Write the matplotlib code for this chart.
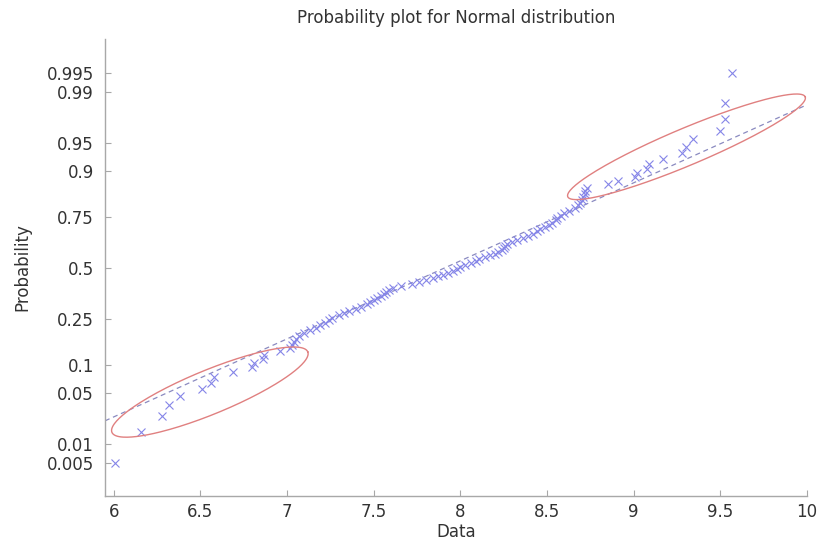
"""Normal probability plot with two hand-circled tail regions."""
from statistics import NormalDist

import matplotlib
matplotlib.use("Agg")
import matplotlib.pyplot as plt
import numpy as np

plt.rcParams["font.family"] = ["DejaVu Sans"]

ND = NormalDist()

INK = "#333333"
AXIS = "#a8a8a8"
MARK = "#8585e8"
REFLINE = "#8a8ac0"
RING = "#e08080"
FS = 12

# sorted sample (n = 100)
data = [
    6.01, 6.16, 6.28, 6.32, 6.38, 6.51, 6.56, 6.58, 6.69, 6.80,
    6.81, 6.86, 6.87, 6.96, 7.02, 7.03, 7.04, 7.05, 7.07, 7.10,
    7.13, 7.17, 7.19, 7.22, 7.24, 7.26, 7.30, 7.33, 7.36, 7.40,
    7.43, 7.46, 7.48, 7.50, 7.52, 7.54, 7.56, 7.57, 7.59, 7.61,
    7.66, 7.72, 7.76, 7.80, 7.84, 7.87, 7.90, 7.93, 7.96, 7.98,
    8.00, 8.03, 8.06, 8.09, 8.11, 8.14, 8.17, 8.20, 8.22, 8.24,
    8.25, 8.26, 8.27, 8.30, 8.33, 8.36, 8.39, 8.42, 8.44, 8.46,
    8.49, 8.51, 8.53, 8.55, 8.56, 8.58, 8.60, 8.63, 8.66, 8.68,
    8.69, 8.70, 8.71, 8.72, 8.72, 8.73, 8.85, 8.91, 9.01, 9.02,
    9.08, 9.09, 9.17, 9.28, 9.30, 9.34, 9.50, 9.53, 9.53, 9.57,
]

prob_ticks = [0.005, 0.01, 0.05, 0.1, 0.25, 0.5, 0.75, 0.9, 0.95, 0.99, 0.995]
prob_labels = ["0.005", "0.01", "0.05", "0.1", "0.25", "0.5", "0.75",
               "0.9", "0.95", "0.99", "0.995"]
x_ticks = [6, 6.5, 7, 7.5, 8, 8.5, 9, 9.5, 10]
x_labels = ["6", "6.5", "7", "7.5", "8", "8.5", "9", "9.5", "10"]

# circled regions: two ends (data value, probability) and half-width in px
rings = [
    ((5.99, 0.015), (7.12, 0.134), 22),
    ((8.62, 0.826), (9.99, 0.988), 18.5),
]


def ring(ax, end_a, end_b, half_w, color):
    """Hand-drawn-looking ellipse between two points, built in pixel space."""
    tr = ax.transData
    p1 = np.array(tr.transform((end_a[0], ND.inv_cdf(end_a[1]))))
    p2 = np.array(tr.transform((end_b[0], ND.inv_cdf(end_b[1]))))
    c = (p1 + p2) / 2
    d = p2 - p1
    a = np.hypot(*d) / 2
    ang = np.arctan2(d[1], d[0])
    t = np.linspace(0, 2 * np.pi, 240)
    u, v = a * np.cos(t), half_w * np.sin(t)
    pts = np.column_stack([
        c[0] + u * np.cos(ang) - v * np.sin(ang),
        c[1] + u * np.sin(ang) + v * np.cos(ang),
    ])
    back = tr.inverted().transform(pts)
    ax.plot(back[:, 0], back[:, 1], color=color, lw=1.0, clip_on=False, zorder=4)


fig = plt.figure(figsize=(8.24, 5.45), dpi=100)
ax = fig.add_axes([0.1274, 0.0899, 0.8519, 0.8385])

x = np.array(data)
n = len(x)
z = np.array([ND.inv_cdf((i - 0.5) / n) for i in range(1, n + 1)])

# reference line through the quartiles
q1, q3 = np.percentile(x, [25, 75])
zq1, zq3 = ND.inv_cdf(0.25), ND.inv_cdf(0.75)
slope = (zq3 - zq1) / (q3 - q1)
xl = np.array([5.95, 10.0])
ax.plot(xl, zq1 + slope * (xl - q1), color=REFLINE, lw=0.9,
        dashes=(4, 3), zorder=2)

ax.plot(x, z, linestyle="none", marker="x", ms=5.5, mew=0.8,
        color=MARK, zorder=3)

ax.set_xlim(5.95, 10.0)
ax.set_ylim(-3.01, 3.02)
ax.set_xticks(x_ticks)
ax.set_xticklabels(x_labels)
ax.set_yticks([ND.inv_cdf(p) for p in prob_ticks])
ax.set_yticklabels(prob_labels)

for side in ("top", "right"):
    ax.spines[side].set_visible(False)
for side in ("left", "bottom"):
    ax.spines[side].set_color(AXIS)
    ax.spines[side].set_linewidth(1.0)
ax.tick_params(direction="in", length=4, color=AXIS, labelsize=FS,
               labelcolor=INK)
ax.tick_params(axis="y", pad=8)
ax.tick_params(axis="x", pad=5)

fig.text(456 / 824, 1 - 18 / 545, "Probability plot for Normal distribution",
         ha="center", va="center", fontsize=FS, color=INK)
ax.set_xlabel("Data", fontsize=FS, color=INK)
ax.set_ylabel("Probability", fontsize=FS, color=INK)
ax.xaxis.set_label_coords(0.5, -0.06)
ax.yaxis.set_label_coords(-0.118, 0.5)
ax.yaxis.label.set_va("center")

for end_a, end_b, hw in rings:
    ring(ax, end_a, end_b, hw, RING)

fig.savefig("out.png", dpi=100, facecolor="white")
plt.close(fig)
